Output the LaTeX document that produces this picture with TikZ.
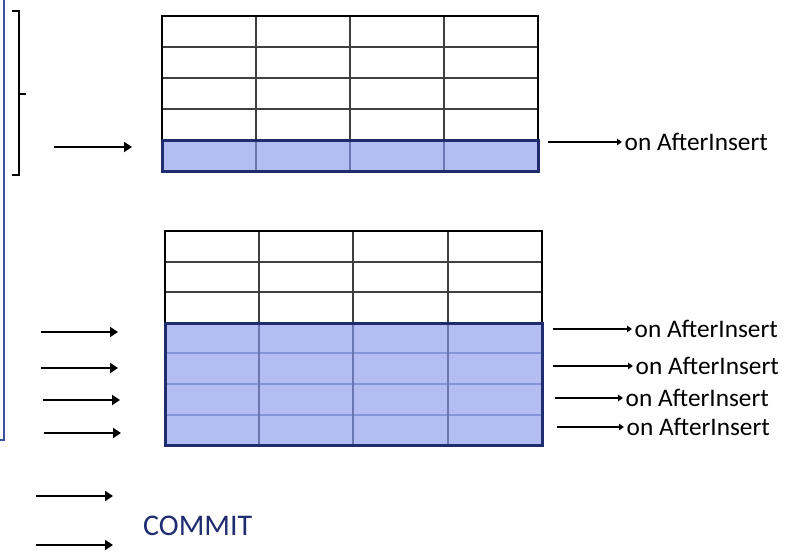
\documentclass[tikz,border=0pt]{standalone}
\usepackage{fontspec}
\setmainfont{Carlito}
\usetikzlibrary{arrows.meta,positioning}
\definecolor{rowblue}{HTML}{B3BDF2}
\definecolor{navy}{HTML}{1F2C70}
\definecolor{frameblue}{HTML}{3F4E9E}
\definecolor{seplight}{HTML}{8494DA}
\definecolor{sepdark}{HTML}{6A76B0}

\tikzset{
  evt/.style={anchor=west, inner sep=2.5pt, font=\fontsize{25.3}{29}\selectfont},
  arr/.style={-{Triangle[length=8pt,width=10pt]}, line width=1.8pt},
  sarr/.style={-{Triangle[length=5pt,width=6.5pt]}, line width=1.3pt},
  gridline/.style={line width=1.2pt, black!75},
}

\begin{document}
\begin{tikzpicture}[x=1pt,y=-1pt]
    \useasboundingbox (0,0) rectangle (796,558);
    % frame at the left edge
    \begin{scope}
        \clip (0,0) rectangle (796,558);
        \draw [frameblue,line width=1.2pt] (-20,-20) rectangle (4,440);
    \end{scope}
    \draw [line width=1.4pt] (12,11) -- (19,11) -- (19,175) -- (12,175);
    \draw [line width=1.4pt] (19,94) -- (26,94);

    % upper table
    \foreach \y in {47,78,109} \draw [gridline] (162,\y) -- (538,\y);
    \foreach \x in {256,350,444} \draw [gridline] (\x,16) -- (\x,140);
    \draw [line width=2pt] (162,140) -- (162,16) -- (538,16) -- (538,140);
    \fill [rowblue] (162,140) rectangle (538,171);
    \foreach \x in {256,350,444} \draw [sepdark,line width=1.2pt] (\x,140) -- (\x,171);
    \draw [navy,line width=3pt] (162,140) rectangle (538,171);

    % lower table
    \foreach \y in {262,292} \draw [gridline] (165,\y) -- (542,\y);
    \foreach \x in {259,353,448} \draw [gridline] (\x,231) -- (\x,323);
    \draw [line width=2pt] (165,323) -- (165,231) -- (542,231) -- (542,323);
    \fill [rowblue] (165,323) rectangle (542,445);
    \foreach \y in {353,384,415} \draw [seplight,line width=2pt] (165,\y) -- (542,\y);
    \foreach \x in {259,353,448} \draw [sepdark,line width=1.2pt] (\x,323) -- (\x,445);
    \draw [navy,line width=3pt] (165,323) rectangle (542,445);

    % events
    \node [evt] (ins0) at (622,142) {on AfterInsert};
    \node [evt] (ins1) at (632,329) {on AfterInsert};
    \node [evt] (ins2) at (633,366) {on AfterInsert};
    \node [evt] (ins3) at (623,398) {on AfterInsert};
    \node [evt] (ins4) at (624,427) {on AfterInsert};
    \coordinate (r0) at (548,142);
    \coordinate (r1) at (553,329);
    \coordinate (r2) at (553,366);
    \coordinate (r3) at (555,398);
    \coordinate (r4) at (557,427);
    \draw [sarr] (r0) -- (ins0);
    \draw [sarr] (r1) -- (ins1);
    \draw [sarr] (r2) -- (ins2);
    \draw [sarr] (r3) -- (ins3);
    \draw [sarr] (r4) -- (ins4);

    % incoming rows
    \coordinate (a0) at (54,147);  \coordinate (b0) at (132,147);
    \coordinate (a1) at (41,332);  \coordinate (b1) at (118,332);
    \coordinate (a2) at (41,368);  \coordinate (b2) at (118,368);
    \coordinate (a3) at (43,400);  \coordinate (b3) at (120,400);
    \coordinate (a4) at (44,433);  \coordinate (b4) at (121,433);
    \coordinate (a5) at (36,496);  \coordinate (b5) at (113,496);
    \coordinate (a6) at (36,545);  \coordinate (b6) at (113,545);
    \foreach \i in {0,...,6} \draw [arr] (a\i) -- (b\i);

    \node [anchor=west,inner sep=0pt,navy,font=\fontsize{30}{34}\selectfont] (commit) at (143,526) {COMMIT};
\end{tikzpicture}
\end{document}
